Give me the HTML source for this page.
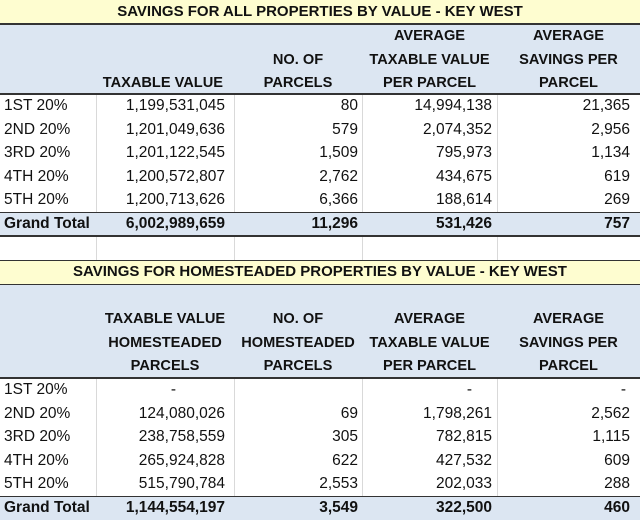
<!DOCTYPE html>
<html><head><style>
body{margin:0;width:640px;height:520px;overflow:hidden;background:#fff;font-family:"Liberation Sans",Arial,sans-serif;color:#111;position:relative}
.a{position:absolute;white-space:nowrap;font-size:15.5px;line-height:23.6px}
.b{font-weight:bold;font-size:14.6px;line-height:23.6px}
.r{text-align:right}
.c{text-align:center}
.bg{position:absolute;left:0;width:640px}
.vl{position:absolute;width:1px;background:#d9d9d9}
.hl{position:absolute;left:0;width:640px;height:1.5px;background:#333}
</style></head><body>
<div class="bg" style="top:0;height:24px;background:#fefdd0"></div>
<div class="bg" style="top:24px;height:70px;background:#dce6f2"></div>
<div class="bg" style="top:212px;height:24px;background:#dce6f2"></div>
<div class="bg" style="top:260px;height:24px;background:#fefdd0"></div>
<div class="bg" style="top:284px;height:94px;background:#dce6f2"></div>
<div class="bg" style="top:496px;height:24px;background:#dce6f2"></div>
<div class="vl" style="left:96px;top:94px;height:118px"></div>
<div class="vl" style="left:234px;top:94px;height:118px"></div>
<div class="vl" style="left:362px;top:94px;height:118px"></div>
<div class="vl" style="left:497px;top:94px;height:118px"></div>
<div class="vl" style="left:96px;top:236px;height:24px"></div>
<div class="vl" style="left:234px;top:236px;height:24px"></div>
<div class="vl" style="left:362px;top:236px;height:24px"></div>
<div class="vl" style="left:497px;top:236px;height:24px"></div>
<div class="vl" style="left:96px;top:378px;height:118px"></div>
<div class="vl" style="left:234px;top:378px;height:118px"></div>
<div class="vl" style="left:362px;top:378px;height:118px"></div>
<div class="vl" style="left:497px;top:378px;height:118px"></div>
<div class="hl" style="top:23px"></div>
<div class="hl" style="top:93px"></div>
<div class="hl" style="top:211.5px"></div>
<div class="hl" style="top:235px;height:2px"></div>
<div class="hl" style="top:259.5px"></div>
<div class="hl" style="top:283.5px"></div>
<div class="hl" style="top:377px"></div>
<div class="hl" style="top:495.5px"></div>

<div class="a b c" style="left:0;width:640px;top:0px;font-size:15px">SAVINGS FOR ALL PROPERTIES BY VALUE - KEY WEST</div>
<div class="a b r" style="left:96px;width:127px;top:72px">TAXABLE VALUE</div>
<div class="a b c" style="left:234px;width:128px;top:48.5px">NO. OF<br>PARCELS</div>
<div class="a b c" style="left:362px;width:135px;top:25px">AVERAGE<br>TAXABLE VALUE<br>PER PARCEL</div>
<div class="a b c" style="left:497px;width:143px;top:25px">AVERAGE<br>SAVINGS PER<br>PARCEL</div>

<div class="a" style="left:4px;top:94px">1ST 20%<br>2ND 20%<br>3RD 20%<br>4TH 20%<br>5TH 20%</div>
<div class="a r" style="left:96px;width:129px;top:94px">1,199,531,045<br>1,201,049,636<br>1,201,122,545<br>1,200,572,807<br>1,200,713,626</div>
<div class="a r" style="left:234px;width:124px;top:94px">80<br>579<br>1,509<br>2,762<br>6,366</div>
<div class="a r" style="left:362px;width:130px;top:94px">14,994,138<br>2,074,352<br>795,973<br>434,675<br>188,614</div>
<div class="a r" style="left:497px;width:133px;top:94px">21,365<br>2,956<br>1,134<br>619<br>269</div>
<div class="a b" style="left:4px;top:212px;font-size:15.5px">Grand Total</div>
<div class="a b r" style="left:96px;width:129px;top:212px;font-size:15.5px">6,002,989,659</div>
<div class="a b r" style="left:234px;width:124px;top:212px;font-size:15.5px">11,296</div>
<div class="a b r" style="left:362px;width:130px;top:212px;font-size:15.5px">531,426</div>
<div class="a b r" style="left:497px;width:133px;top:212px;font-size:15.5px">757</div>

<div class="a b c" style="left:0;width:640px;top:260px;font-size:15px">SAVINGS FOR HOMESTEADED PROPERTIES BY VALUE - KEY WEST</div>
<div class="a b c" style="left:96px;width:138px;top:308px">TAXABLE VALUE<br>HOMESTEADED<br>PARCELS</div>
<div class="a b c" style="left:234px;width:128px;top:308px">NO. OF<br>HOMESTEADED<br>PARCELS</div>
<div class="a b c" style="left:362px;width:135px;top:308px">AVERAGE<br>TAXABLE VALUE<br>PER PARCEL</div>
<div class="a b c" style="left:497px;width:143px;top:308px">AVERAGE<br>SAVINGS PER<br>PARCEL</div>

<div class="a" style="left:4px;top:378px">1ST 20%<br>2ND 20%<br>3RD 20%<br>4TH 20%<br>5TH 20%</div>
<div class="a r" style="left:96px;width:129px;top:378px"><span style="padding-right:49px">-</span><br>124,080,026<br>238,758,559<br>265,924,828<br>515,790,784</div>
<div class="a r" style="left:234px;width:124px;top:378px">&nbsp;<br>69<br>305<br>622<br>2,553</div>
<div class="a r" style="left:362px;width:130px;top:378px"><span style="padding-right:20px">-</span><br>1,798,261<br>782,815<br>427,532<br>202,033</div>
<div class="a r" style="left:497px;width:133px;top:378px"><span style="padding-right:4px">-</span><br>2,562<br>1,115<br>609<br>288</div>
<div class="a b" style="left:4px;top:496px;font-size:15.5px">Grand Total</div>
<div class="a b r" style="left:96px;width:129px;top:496px;font-size:15.5px">1,144,554,197</div>
<div class="a b r" style="left:234px;width:124px;top:496px;font-size:15.5px">3,549</div>
<div class="a b r" style="left:362px;width:130px;top:496px;font-size:15.5px">322,500</div>
<div class="a b r" style="left:497px;width:133px;top:496px;font-size:15.5px">460</div>
</body></html>
